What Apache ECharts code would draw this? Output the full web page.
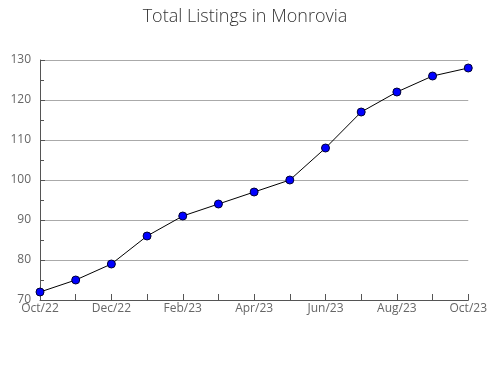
<!DOCTYPE html>
<html><head><meta charset="utf-8">
<script src="https://cdn.jsdelivr.net/npm/echarts@6/dist/echarts.min.js"></script>
<style>html,body{margin:0;padding:0;background:#fff}#c{width:490px;height:380px}</style>
</head><body><div id="c"></div>
<script>
const categories = ['Oct/22','Nov/22','Dec/22','Jan/23','Feb/23','Mar/23','Apr/23','May/23','Jun/23','Jul/23','Aug/23','Sep/23','Oct/23'];
const listings = [72, 75, 79, 86, 91, 94, 97, 100, 108, 117, 122, 126, 128];
const yTicks = {min: 70, max: 130, interval: 10};

const chart = echarts.init(document.getElementById('c'), null, {renderer: 'canvas'});
chart.setOption({
  animation: false,
  title: {
    text: 'Total Listings in Monrovia', left: 'center', top: 3,
    textStyle: {fontFamily: 'Open Sans', fontWeight: 300, fontSize: 18, color: '#333'}
  },
  grid: {left: 40, right: 19, top: 60, bottom: 80, containLabel: false},
  xAxis: {
    type: 'category', data: categories, boundaryGap: false,
    axisLine: {lineStyle: {color: '#555', width: 1}},
    axisTick: {inside: true, length: 6, interval: 0, lineStyle: {color: '#555'}},
    axisLabel: {interval: 1, color: '#666', fontFamily: 'Open Sans', fontSize: 12, margin: 3},
    splitLine: {show: false}
  },
  yAxis: {
    type: 'value', min: yTicks.min, max: yTicks.max, interval: yTicks.interval,
    axisLine: {show: true, lineStyle: {color: '#555', width: 1}},
    axisTick: {show: true, inside: true, length: 5, lineStyle: {color: '#555'}},
    minorTick: {show: true, splitNumber: 2, length: 4, lineStyle: {color: '#555'}},
    axisLabel: {color: '#666', fontFamily: 'Open Sans', fontSize: 12, margin: 9},
    splitLine: {show: true, lineStyle: {color: '#aaa', width: 1}}
  },
  series: [{
    type: 'line', data: listings,
    lineStyle: {color: '#000', width: 1},
    symbol: 'circle', symbolSize: 8,
    itemStyle: {color: '#0000ff', borderColor: '#000033', borderWidth: 1}
  }]
});
</script></body></html>
